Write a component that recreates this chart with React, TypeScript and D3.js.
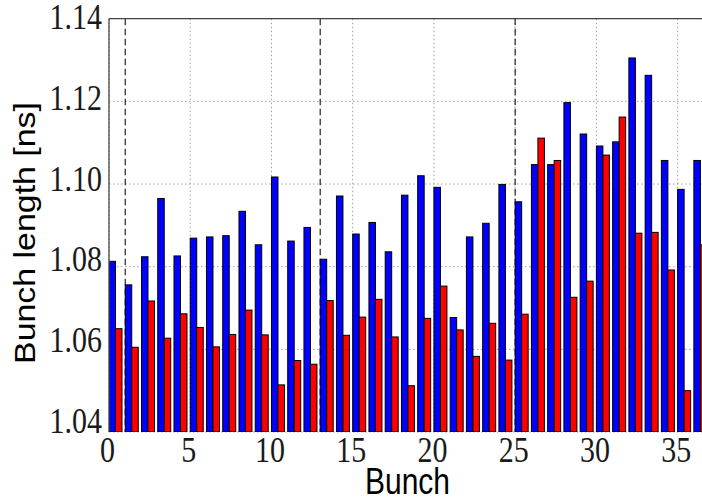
import React from 'react'
import * as d3 from 'd3'

const width = 702
const height = 504

// bunch lengths [ns], one value per bunch (0..36)
const blueLengths = [
  1.0813, 1.0756, 1.0824, 1.0965, 1.0826, 1.0869, 1.0872, 1.0875, 1.0934, 1.0853,
  1.1017, 1.0862, 1.0895, 1.0818, 1.0971, 1.0879, 1.0907, 1.0836, 1.0973, 1.1020,
  1.0992, 1.0677, 1.0872, 1.0905, 1.0999, 1.0957, 1.1047, 1.1047, 1.1197, 1.1121,
  1.1092, 1.1102, 1.1305, 1.1263, 1.1057, 1.0987, 1.1057,
]
const redLengths = [
  1.0650, 1.0605, 1.0717, 1.0627, 1.0686, 1.0653, 1.0606, 1.0636, 1.0695, 1.0635,
  1.0514, 1.0573, 1.0564, 1.0718, 1.0634, 1.0678, 1.0721, 1.0630, 1.0512, 1.0675,
  1.0753, 1.0647, 1.0583, 1.0663, 1.0574, 1.0685, 1.1111, 1.1057, 1.0726, 1.0765,
  1.1070, 1.1162, 1.0881, 1.0883, 1.0792, 1.0500, 1.0853,
]
const xTicks = [0, 5, 10, 15, 20, 25, 30, 35]
const yTicks = [1.04, 1.06, 1.08, 1.10, 1.12, 1.14]
const trainStarts = [1, 13, 25]

const barWidth = 0.4
const left = 109
const top = 18.7
const bottom = 432

export default function App() {
  const x = d3.scaleLinear().domain([0, 36.5]).range([left, width])
  const y = d3.scaleLinear().domain([1.04, 1.14]).range([bottom, top])
  // tick labels in the picture drift upward towards the bottom
  const yLabel = d3.scaleLinear().domain([1.04, 1.14]).range([421, 17])

  const serif = 'Liberation Serif, DejaVu Serif, serif'
  const sans = 'Liberation Sans, Arial, sans-serif'

  return (
    <svg width={width} height={height} style={{ position: 'absolute', left: 0, top: 0, background: '#fff' }}>
      <defs>
        <clipPath id="plot">
          <rect x={left} y={top} width={width - left} height={bottom - top} />
        </clipPath>
      </defs>

      {/* grid */}
      <g stroke="#a0a0a0" strokeWidth={1} strokeDasharray="1.5,2.5">
        {xTicks.map(t => (
          <line key={'gx' + t} x1={x(t)} x2={x(t)} y1={top} y2={bottom} />
        ))}
        {yTicks.map(t => (
          <line key={'gy' + t} x1={left} x2={width} y1={y(t)} y2={y(t)} />
        ))}
      </g>

      {/* train boundaries */}
      <g stroke="#222" strokeWidth={1.2} strokeDasharray="6.5,3.5">
        {trainStarts.map(t => (
          <line key={'d' + t} x1={x(t)} x2={x(t)} y1={top} y2={bottom} />
        ))}
      </g>

      <g clipPath="url(#plot)" stroke="#000" strokeWidth={1}>
        {blueLengths.map((v, i) => (
          <rect key={'b' + i} x={x(i)} y={y(v)} width={x(i + barWidth) - x(i)} height={bottom - y(v)} fill="#0000ff" />
        ))}
        {redLengths.map((v, i) => (
          <rect key={'r' + i} x={x(i + barWidth)} y={y(v)} width={x(i + 2 * barWidth) - x(i + barWidth)} height={bottom - y(v)} fill="#ff0000" />
        ))}
      </g>

      {/* spines */}
      <g stroke="#444" strokeWidth={1.3} fill="none">
        <line x1={left} x2={width} y1={top} y2={top} />
        <line x1={left} x2={left} y1={top} y2={bottom} />
      </g>

      {/* tick labels */}
      <g fontFamily={serif} fontSize={30} fill="#1a1a1a">
        {xTicks.map(t => (
          <text key={'tx' + t} transform={`translate(${x(t) - 1.5},462) scale(1,1.2)`} textAnchor="middle">
            {t}
          </text>
        ))}
        {yTicks.map(t => (
          <text key={'ty' + t} transform={`translate(102,${yLabel(t) + 12}) scale(1,1.2)`} textAnchor="end">
            {t.toFixed(2)}
          </text>
        ))}
      </g>

      {/* axis titles */}
      <g fontFamily={sans} fontSize={30} fill="#000">
        <text transform={`translate(${(left + width) / 2 + 2},494) scale(1,1.2)`} textAnchor="middle">
          Bunch
        </text>
        <text transform={`translate(35,233) scale(1,1.13) rotate(-90)`} textAnchor="middle">
          Bunch length [ns]
        </text>
      </g>
    </svg>
  )
}
